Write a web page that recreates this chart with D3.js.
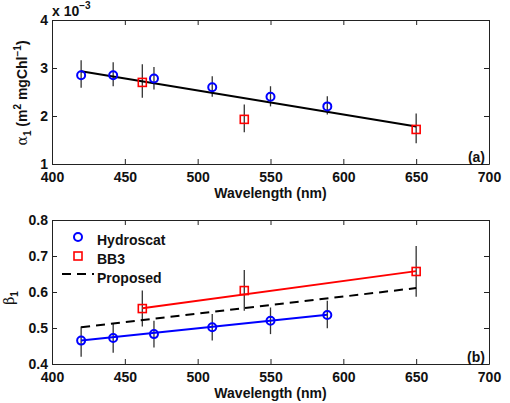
<!DOCTYPE html>
<html>
<head>
<meta charset="utf-8">
<script src="https://cdn.jsdelivr.net/npm/d3@7"></script>
<style>
  body { margin: 0; background: #fff; }
  svg text { font-family: "Liberation Sans", Arial, sans-serif !important; font-weight: bold; }
  svg text .greek { font-family: "DejaVu Serif", serif !important; font-weight: normal; }
</style>
</head>
<body>
<div id="chart"></div>
<script>
// wavelengths (nm)
const hydroWl = [420, 442, 470, 510, 550, 589];
const bb3Wl = [462, 532, 650];

// panel (a): alpha_1 in units of 1e-3
const alphaHydro = [2.85, 2.85, 2.78, 2.60, 2.40, 2.20];
const alphaHydroHi = [3.16, 3.12, 3.02, 2.83, 2.62, 2.41];
const alphaHydroLo = [2.59, 2.62, 2.55, 2.40, 2.20, 2.03];
const alphaBB3 = [2.70, 1.93, 1.72];
const alphaBB3Hi = [3.08, 2.24, 2.05];
const alphaBB3Lo = [2.38, 1.66, 1.43];
const alphaFitWl = [420, 650];
const alphaFit = [2.93, 1.78];

// panel (b): beta_1
const betaHydro = [0.465, 0.472, 0.483, 0.502, 0.520, 0.536];
const betaHydroHi = [0.504, 0.511, 0.520, 0.539, 0.557, 0.576];
const betaHydroLo = [0.420, 0.431, 0.446, 0.465, 0.483, 0.499];
const betaBB3 = [0.554, 0.604, 0.657];
const betaBB3Hi = [0.604, 0.661, 0.728];
const betaBB3Lo = [0.504, 0.548, 0.587];
const hydroFitWl = [420, 589];
const hydroFit = [0.465, 0.537];
const bb3FitWl = [462, 650];
const bb3Fit = [0.555, 0.658];
const proposedWl = [420, 650];
const proposed = [0.502, 0.611];

const xTicks = [400, 450, 500, 550, 600, 650, 700];
const alphaTicks = [1, 2, 3, 4];
const betaTicks = [0.4, 0.5, 0.6, 0.7, 0.8];

const W = 510, H = 403;
const svg = d3.select("#chart").append("svg")
  .attr("width", W).attr("height", H);

const x = d3.scaleLinear().domain([400, 700]).range([52, 489]);

function panel(top, bottom, yDomain, yTicks, yFmt) {
  const y = d3.scaleLinear().domain(yDomain).range([bottom, top]);
  const g = svg.append("g");
  g.append("g").attr("transform", `translate(0,${bottom})`)
    .call(d3.axisBottom(x).tickValues(xTicks).tickSize(-5).tickSizeOuter(0).tickPadding(8));
  g.append("g").attr("transform", `translate(0,${top})`)
    .call(d3.axisTop(x).tickValues(xTicks).tickSize(-5).tickSizeOuter(0).tickFormat(""));
  g.append("g").attr("transform", `translate(52,0)`)
    .call(d3.axisLeft(y).tickValues(yTicks).tickSize(-5).tickSizeOuter(0).tickPadding(4).tickFormat(yFmt));
  g.append("g").attr("transform", `translate(489,0)`)
    .call(d3.axisRight(y).tickValues(yTicks).tickSize(-5).tickSizeOuter(0).tickFormat(""));
  g.selectAll(".tick line").attr("stroke", "#222");
  g.selectAll(".domain").attr("stroke", "#222");
  g.selectAll(".tick text").attr("font-size", 14).attr("fill", "#111")
    .attr("font-weight", "bold");
  g.append("text").attr("x", x(550)).attr("y", bottom + 34)
    .attr("text-anchor", "middle").attr("font-size", 14).attr("fill", "#111")
    .text("Wavelength (nm)");
  return y;
}

function errBars(y, wl, lo, hi) {
  svg.append("g").selectAll("line").data(wl).join("line")
    .attr("x1", d => x(d)).attr("x2", d => x(d))
    .attr("y1", (d, i) => y(lo[i])).attr("y2", (d, i) => y(hi[i]))
    .attr("stroke", "#333").attr("stroke-width", 1.3);
}
function fitLine(y, wl, v, color, dash) {
  svg.append("path").datum(wl)
    .attr("d", d3.line().x(d => x(d)).y((d, i) => y(v[i])))
    .attr("fill", "none").attr("stroke", color).attr("stroke-width", 2)
    .attr("stroke-dasharray", dash || null);
}
function circles(y, wl, v) {
  svg.append("g").selectAll("circle").data(wl).join("circle")
    .attr("cx", d => x(d)).attr("cy", (d, i) => y(v[i])).attr("r", 4)
    .attr("fill", "none").attr("stroke", "#0000ff").attr("stroke-width", 2);
}
function squares(y, wl, v) {
  svg.append("g").selectAll("rect").data(wl).join("rect")
    .attr("x", d => x(d) - 4).attr("y", (d, i) => y(v[i]) - 4)
    .attr("width", 8).attr("height", 8)
    .attr("fill", "none").attr("stroke", "#ff0000").attr("stroke-width", 1.6);
}

// ---- panel (a)
const yA = panel(20, 164, [1, 4], alphaTicks, d3.format("d"));
errBars(yA, hydroWl, alphaHydroLo, alphaHydroHi);
errBars(yA, bb3Wl, alphaBB3Lo, alphaBB3Hi);
fitLine(yA, alphaFitWl, alphaFit, "#000");
circles(yA, hydroWl, alphaHydro);
squares(yA, bb3Wl, alphaBB3);

const mult = svg.append("text").attr("x", 52).attr("y", 16).attr("font-size", 14).attr("fill", "#111");
mult.append("tspan").text("x 10");
mult.append("tspan").attr("dy", -7).attr("font-size", 10).text("\u22123");

const la = svg.append("text").attr("transform", "translate(27,93) rotate(-90)")
  .attr("text-anchor", "middle").attr("font-size", 14).attr("fill", "#111");
la.append("tspan").attr("class", "greek").text("\u03b1");
la.append("tspan").attr("dy", 4).attr("font-size", 10).text("1");
la.append("tspan").attr("dy", -4).text(" (m");
la.append("tspan").attr("dy", -6).attr("font-size", 10).text("2");
la.append("tspan").attr("dy", 6).text(" mgChl");
la.append("tspan").attr("dy", -6).attr("font-size", 10).text("\u22121");
la.append("tspan").attr("dy", 6).text(")");

svg.append("text").attr("x", 485).attr("y", 162).attr("text-anchor", "end")
  .attr("font-size", 14).attr("fill", "#111").text("(a)");

// ---- panel (b)
const yB = panel(220, 364, [0.4, 0.8], betaTicks, d3.format(".1f"));
errBars(yB, hydroWl, betaHydroLo, betaHydroHi);
errBars(yB, bb3Wl, betaBB3Lo, betaBB3Hi);
fitLine(yB, hydroFitWl, hydroFit, "#0000ff");
fitLine(yB, bb3FitWl, bb3Fit, "#ff0000");
fitLine(yB, proposedWl, proposed, "#000", "9,6");
circles(yB, hydroWl, betaHydro);
squares(yB, bb3Wl, betaBB3);

const lb = svg.append("text").attr("transform", "translate(14,298) rotate(-90)")
  .attr("text-anchor", "middle").attr("font-size", 14).attr("fill", "#111");
lb.append("tspan").attr("class", "greek").text("\u03b2");
lb.append("tspan").attr("dy", 4).attr("font-size", 10).text("1");

svg.append("text").attr("x", 485).attr("y", 362).attr("text-anchor", "end")
  .attr("font-size", 14).attr("fill", "#111").text("(b)");

// legend
const lg = svg.append("g");
lg.append("circle").attr("cx", 78).attr("cy", 237).attr("r", 4)
  .attr("fill", "none").attr("stroke", "#0000ff").attr("stroke-width", 2);
lg.append("rect").attr("x", 74).attr("y", 252).attr("width", 8).attr("height", 8)
  .attr("fill", "none").attr("stroke", "#ff0000").attr("stroke-width", 1.6);
lg.append("line").attr("x1", 62).attr("x2", 94).attr("y1", 274).attr("y2", 274)
  .attr("stroke", "#000").attr("stroke-width", 2).attr("stroke-dasharray", "9,6");
["Hydroscat", "BB3", "Proposed"].forEach((t, i) => {
  lg.append("text").attr("x", 97).attr("y", 245 + i * 19)
    .attr("font-size", 14).attr("fill", "#111").text(t);
});
</script>
</body>
</html>
